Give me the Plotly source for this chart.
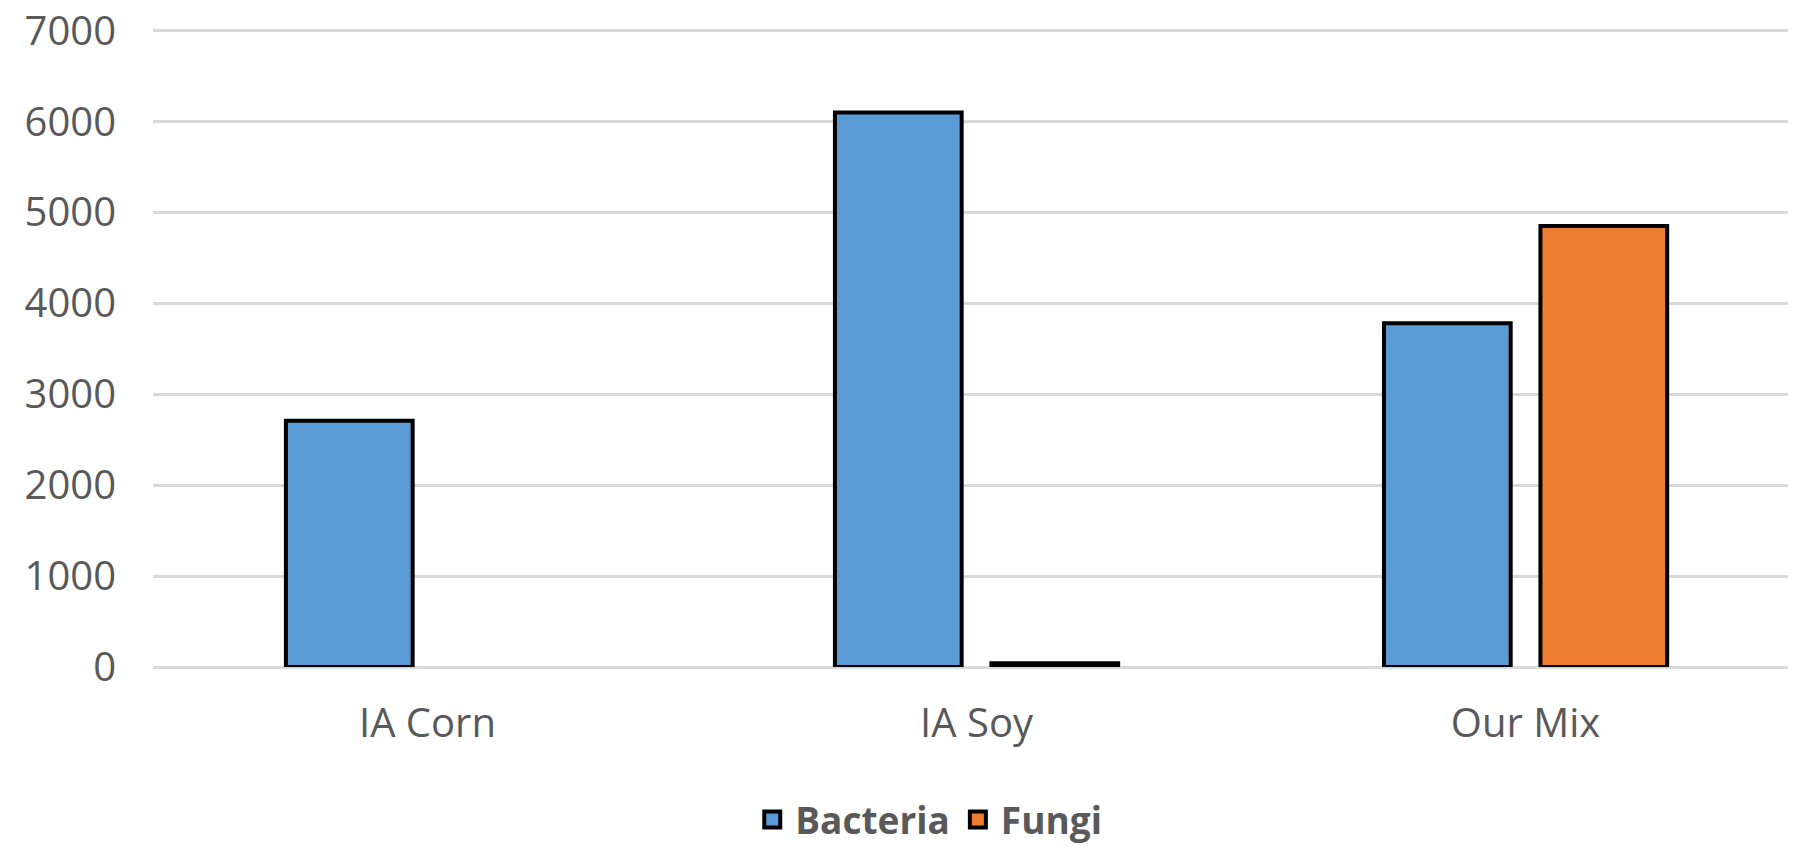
import plotly.graph_objects as go

categories = ["IA Corn", "IA Soy", "Our Mix"]
bacteria = [2710, 6100, 3780]
fungi = [None, 40, 4850]
y_ticks = [0, 1000, 2000, 3000, 4000, 5000, 6000, 7000]

BLUE = "#5B9BD5"
ORANGE = "#ED7D31"
GRAY = "#595959"
FONT = "Open Sans"

fig = go.Figure()
fig.add_trace(go.Bar(name="Bacteria", x=categories, y=bacteria,
                     marker=dict(color=BLUE, line=dict(color="black", width=4)),
                     showlegend=False))
fig.add_trace(go.Bar(name="Fungi", x=categories, y=fungi,
                     marker=dict(color=ORANGE, line=dict(color="black", width=4)),
                     showlegend=False))
# legend proxies
for nm, col in [("Bacteria", BLUE), ("Fungi", ORANGE)]:
    fig.add_trace(go.Scatter(name=nm, x=[None], y=[None], mode="markers",
                             marker=dict(symbol="square", size=26, color=col,
                                         line=dict(color="black", width=4))))

fig.update_layout(
    width=1780, height=838,
    margin=dict(l=145, r=0, t=19, b=179, autoexpand=False),
    paper_bgcolor="white", plot_bgcolor="white",
    barmode="group", bargap=0.43, bargroupgap=0.19,
    font=dict(family=FONT, color=GRAY, size=40),
    legend=dict(orientation="h", x=0.517, xanchor="center", xref="container",
                y=0.031, yanchor="middle", yref="container",
                font=dict(family=FONT, size=37, color=GRAY, weight="bold"),
                itemsizing="trace", itemwidth=36, tracegroupgap=0),
    xaxis=dict(range=[-0.5, 2.478], showgrid=False, showline=False, ticks="",
               tickfont=dict(size=40, color=GRAY),
               ticklabelstandoff=29, automargin=False),
    yaxis=dict(range=[0, 7040], tickvals=y_ticks, showgrid=True, gridcolor="#D9D9D9",
               gridwidth=3, zeroline=True, zerolinecolor="#D9D9D9", zerolinewidth=3,
               showline=False, ticks="", tickfont=dict(size=40, color=GRAY),
               ticklabelstandoff=36, automargin=False, ticklabeloverflow="allow"),
)

fig.write_html("out.html")
